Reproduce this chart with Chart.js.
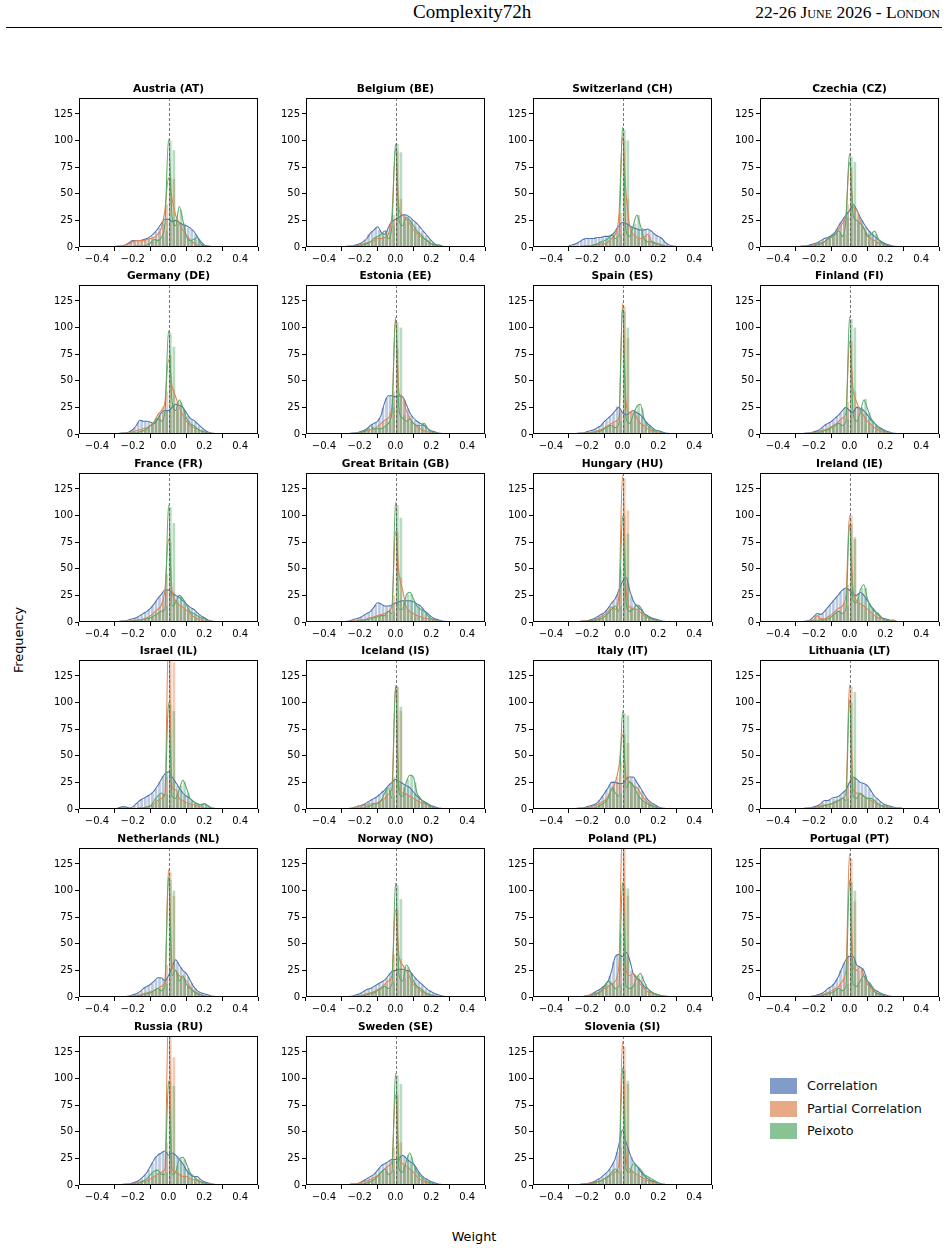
<!DOCTYPE html>
<html>
<head>
<meta charset="utf-8">
<script src="https://cdn.jsdelivr.net/npm/chart.js@4.4.1/dist/chart.umd.min.js"></script>
<style>
  html, body { margin: 0; padding: 0; background: #fff; }
  #page { position: relative; width: 948px; height: 1250px; background: #fff; overflow: hidden; font-family: "DejaVu Sans", sans-serif; }
  .hdr { position: absolute; font-family: "Liberation Serif", "Times New Roman", serif; color: #000; white-space: nowrap; }
  #rule { position: absolute; left: 6px; top: 27px; width: 936px; height: 1px; background: #000; }
  canvas.panel { position: absolute; }
  .lab { position: absolute; font-size: 12.8px; color: #000; white-space: nowrap; }
  .leg { position: absolute; left: 770px; width: 27px; height: 16px; }
  .legt { position: absolute; left: 807px; font-size: 12.8px; color: #111; white-space: nowrap; }
</style>
</head>
<body>
<div id="page">
  <div class="hdr" style="left:413px; top:1px; font-size:19px;">Complexity72h</div>
  <div class="hdr" style="right:8px; top:2px; font-size:17.5px; font-variant: small-caps;">22-26 June 2026 - London</div>
  <div id="rule"></div>
  <div class="lab" style="left:18px; top:640px; transform: translate(-50%,-50%) rotate(-90deg);">Frequency</div>
  <div class="lab" style="left:474px; top:1236px; transform: translate(-50%,-50%);">Weight</div>
  <div class="leg" style="top:1078px; background: rgba(76,114,176,0.7);"></div>
  <div class="legt" style="top:1078px;">Correlation</div>
  <div class="leg" style="top:1101px; background: rgba(221,132,82,0.7);"></div>
  <div class="legt" style="top:1101px;">Partial Correlation</div>
  <div class="leg" style="top:1123px; background: rgba(85,168,104,0.7);"></div>
  <div class="legt" style="top:1123px;">Peixoto</div>
</div>
<script>
const countries = ['Austria (AT)','Belgium (BE)','Switzerland (CH)','Czechia (CZ)','Germany (DE)','Estonia (EE)','Spain (ES)','Finland (FI)','France (FR)','Great Britain (GB)','Hungary (HU)','Ireland (IE)','Israel (IL)','Iceland (IS)','Italy (IT)','Lithuania (LT)','Netherlands (NL)','Norway (NO)','Poland (PL)','Portugal (PT)','Russia (RU)','Sweden (SE)','Slovenia (SI)'];
const seriesNames = ['Correlation','Partial Correlation','Peixoto'];
const xTicks = [-0.4,-0.2,0,0.2,0.4];
const yTicks = [0,25,50,75,100,125];
const lineX = [-0.30,-0.28,-0.26,-0.24,-0.22,-0.20,-0.18,-0.16,-0.14,-0.12,-0.10,-0.08,-0.06,-0.04,-0.02,0.00,0.02,0.04,0.06,0.08,0.10,0.12,0.14,0.16,0.18,0.20,0.22,0.24,0.26,0.28,0.30];
const binX = [-0.29,-0.27,-0.25,-0.23,-0.21,-0.19,-0.17,-0.15,-0.13,-0.11,-0.09,-0.07,-0.05,-0.03,-0.01,0.01,0.03,0.05,0.07,0.09,0.11,0.13,0.15,0.17,0.19,0.21,0.23,0.25,0.27,0.29];

// KDE curves (counts scale), one row per country, at lineX
const corrLine = [
[0.5,1,1,2,4,6,6,6,7,8,10,13,17,22,26,26,24,25,23,21,20,18,15,10,5,2,1,0.5,0.3,0.2,0],
[0,0.5,1,1,2,3,5,8,13,16,19,14,12,18,24,26,28,30,30,28,25,22,18,14,10,6,3,1,0.5,0,0],
[1,2,3,5,7,8,8,8,9,9,10,10,11,15,20,23,22,20,18,17,16,16,17,15,12,10,8,4,2,1,0.5],
[0,0.5,1,1,2,3,4,6,8,9,11,14,20,25,30,34,40,35,28,22,17,13,10,7,5,3,2,1,0.5,0,0],
[0,0.5,1,1,2,4,8,13,12,12,11,10,14,20,22,22,25,28,27,25,20,15,13,10,7,4,2,1,0.5,0,0],
[0,0,0.5,1,1,2,3,5,8,10,12,18,30,36,36,35,36,35,28,20,15,12,10,8,5,3,2,1,0.5,0,0],
[0,0,0.5,1,1,2,3,4,6,8,12,15,18,22,25,20,18,20,22,20,18,14,10,7,4,3,2,1,0.5,0,0],
[0,0,0.5,1,1,2,3,5,8,10,12,15,18,22,25,22,20,25,24,22,18,13,10,7,5,3,2,1,0.5,0,0],
[0,0.5,1,1,2,3,4,6,8,10,13,17,22,26,30,30,27,25,23,20,17,14,12,9,6,4,2,1,0.5,0,0],
[0,0.5,1,2,3,4,6,8,10,14,18,17,15,15,16,18,19,20,20,20,19,17,15,11,8,5,3,2,1,0.5,0],
[0,0,0,0.5,1,1,2,3,5,7,9,13,18,22,30,38,42,30,20,15,12,8,6,4,3,2,1,0.5,0,0,0],
[0,0,0.5,1,2,5,8,7,10,14,18,22,26,30,32,30,26,25,28,25,20,15,11,7,4,3,2,1,0.5,0,0],
[0,1,2,2,1,2,5,8,10,12,14,17,22,28,33,35,30,25,20,15,12,10,7,5,4,5,3,1,0.5,0,0],
[0,0,0.5,1,2,3,4,6,8,10,12,15,18,22,25,28,26,24,22,20,16,12,9,7,5,3,2,1,0.5,0,0],
[0,0,0.5,1,1,2,3,4,6,10,15,20,25,25,24,24,28,30,30,25,20,14,9,6,4,2,1,0.5,0,0,0],
[0,0,0.5,1,1,2,3,5,8,8,10,11,12,15,18,25,30,28,25,24,22,17,12,9,6,4,3,2,1,1,0.5],
[0,0,0,0.5,1,2,3,5,8,10,12,15,18,18,15,20,28,35,30,25,22,16,10,6,4,3,2,1,0.5,0,0],
[0,0,0.5,1,2,3,5,7,8,10,12,14,16,20,24,25,26,26,25,24,20,16,13,10,7,5,3,2,1,0.5,0],
[0,0,0,0,0.5,1,2,4,6,8,11,15,25,38,40,38,42,35,22,18,15,10,8,5,3,2,1,0.5,0,0,0],
[0,0,0,0,0.5,1,2,3,5,8,10,14,20,28,35,38,38,30,28,25,15,10,7,5,3,2,1,0.5,0,0,0],
[0,0,0.5,1,1,2,3,5,8,12,18,24,28,30,32,28,30,28,24,20,14,10,8,8,5,3,2,1,0.5,0,0],
[0,0,0.5,1,1,2,4,6,8,10,14,18,20,22,24,24,25,28,25,22,20,15,10,7,5,3,2,1,0.5,0,0],
[0,0,0,0.5,1,1,2,3,5,7,10,13,18,25,38,52,40,30,22,18,13,9,6,4,3,2,1,0.5,0,0,0]
];
const partLine = [
[0,0.5,1,2,3,5,6,6,6,7,8,9,12,18,35,65,45,30,22,16,11,7,4,2,1,1,1,0.5,0.5,0.3,0],
[0,0,0.5,1,1,2,3,4,5,6,8,8,9,12,30,92,35,30,26,22,16,13,10,8,5,3,2,1,0.5,0,0],
[0,0,0,0.5,1,1,1,2,2,3,3,5,8,12,30,103,50,20,12,9,8,9,12,6,3,2,1,0.5,0,0,0],
[0,0,0.5,1,1,2,3,4,5,7,9,12,17,22,30,80,38,35,25,17,12,8,6,4,3,2,1,0.5,0,0,0],
[0,0,0.5,1,1,2,3,4,5,6,8,12,18,22,30,70,45,35,25,18,12,8,6,5,3,2,1,0.5,0,0,0],
[0,0,0,0.5,1,1,2,3,4,5,7,10,13,15,25,110,38,35,22,15,10,7,5,3,2,1,1,0.5,0,0,0],
[0,0,0,0.5,1,1,1,2,3,4,6,8,10,12,15,123,30,20,22,15,10,8,5,3,2,1,0.5,0,0,0,0],
[0,0,0,0.5,1,1,2,3,4,5,7,9,12,15,20,87,42,30,22,17,12,9,6,4,2,1,1,0.5,0,0,0],
[0,0,0.5,1,1,1,2,2,3,4,6,9,12,16,30,78,30,20,16,14,11,8,5,3,2,1,1,0.5,0,0,0],
[0,0,0.5,1,1,2,2,3,4,5,6,7,8,10,15,85,45,30,14,10,8,6,5,4,3,2,1,0.5,0,0,0],
[0,0,0,0.5,1,1,1,2,3,5,7,10,14,12,25,138,30,14,12,12,9,6,4,3,2,1,0.5,0,0,0,0],
[0,0,0,0.5,1,2,6,3,3,5,7,10,13,15,25,100,30,20,17,15,12,9,6,4,3,2,1,2,1,0,0],
[0,0,1,0.5,0,0,0.5,1,1,2,3,5,8,10,15,160,20,18,10,8,6,5,4,3,2,1,1,0.5,0,0,0],
[0,0,0.5,1,2,3,3,4,5,5,6,8,10,14,20,115,20,15,14,12,10,8,6,5,4,2,1,0.5,0,0,0],
[0,0,0,0.5,1,1,2,3,4,6,8,12,18,25,40,70,30,26,22,20,15,10,7,4,2,1,0.5,0,0,0,0],
[0,0,0.5,0.5,1,1,2,3,4,4,5,6,8,10,15,117,18,15,14,12,10,8,6,4,3,3,2,1,1,1,0.5],
[0,0,0,0,0.5,1,1,2,3,4,5,6,8,10,15,120,30,25,20,18,15,10,6,4,2,1,0.5,0,0,0,0],
[0,0,0,0.5,1,1,2,3,4,5,7,9,12,15,20,82,38,30,25,18,12,9,6,4,2,1,0.5,0,0,0,0],
[0,0,0,0,0.5,1,2,3,4,6,8,10,12,15,30,170,25,20,22,18,12,8,5,4,3,2,1,1,0.5,0,0],
[0,0,0,0,0.5,1,1,2,3,4,6,8,10,15,25,135,28,25,28,20,12,8,5,3,2,1,0.5,0,0,0,0],
[0,0,0.5,0.5,1,1,2,3,3,4,6,8,10,12,15,165,15,12,10,8,8,6,5,4,3,2,1,1,0.5,0,0],
[0,0,0.5,1,1,2,3,4,5,7,9,12,15,18,22,85,25,20,18,15,12,8,5,3,2,1,0.5,0,0,0,0],
[0,0,0,0.5,1,1,2,2,3,4,6,8,10,12,20,135,25,15,12,10,8,6,4,3,2,1,0.5,0,0,0,0]
];
const peixLine = [
[0,0,0,0,0,0.5,1,1,1,2,4,7,6,9,22,101,28,20,38,25,10,6,7,9,3,1,0.5,0,0,0,0],
[0,0,0,0.5,1,1,2,3,5,8,10,12,15,8,20,97,25,20,28,25,20,15,12,8,6,3,2,2,1,0,0],
[0,0,0,0,0.5,1,1,2,3,5,6,8,12,8,10,113,15,10,20,30,20,8,5,5,4,3,2,1,0.5,0,0],
[0,0,0,0.5,1,1,2,3,5,8,10,12,15,10,25,88,30,25,22,18,10,12,15,8,4,2,1,0.5,0,0,0],
[0,0,0,0,0.5,1,1,2,3,5,8,10,15,12,20,97,30,22,32,25,15,10,8,5,3,2,1,0.5,0,0,0],
[0,0,0,0,1,1,2,4,8,5,5,5,7,10,20,108,22,15,12,14,10,8,8,10,5,2,1,0.5,0,0,0],
[0,0,0,0,0.5,1,1,1,2,3,5,7,8,6,10,118,15,10,18,26,28,15,8,5,3,3,1,0.5,0,0,0],
[0,0,0,0,0.5,1,1,2,3,4,6,8,10,8,12,110,20,12,20,32,24,15,10,6,4,2,1,0.5,0,0,0],
[0,0,0,0,0.5,1,1,1,2,3,4,6,8,10,12,110,15,18,25,22,16,10,8,6,4,3,1,0.5,0,0,0],
[0,0,0,0,0.5,1,1,2,3,4,5,6,6,10,8,113,12,12,25,28,22,15,12,10,6,3,2,1,0.5,0,0],
[0,0,0,0,0,0.5,1,1,2,3,5,8,12,15,10,100,18,10,12,16,14,8,5,3,2,1,0.5,0,0,0,0],
[0,0,0,0,0.5,1,1,2,2,3,5,8,10,8,12,92,20,18,30,35,22,14,10,8,4,2,1,1,0.5,0,0],
[0,0,0,0,0,0.5,0.5,1,1,2,3,8,12,15,12,100,12,10,18,27,20,10,7,5,4,5,3,1,0.5,0,0],
[0,0,0,0,0.5,1,1,2,3,5,5,8,15,20,10,116,15,12,25,32,30,15,10,6,4,2,1,0.5,0,0,0],
[0,0,0,0,0.5,1,1,1,2,4,6,10,20,15,12,92,20,25,22,15,10,7,5,3,2,1,0.5,0,0,0,0],
[0,0,0,0,0.5,1,1,2,3,4,5,7,8,10,8,103,12,10,15,12,10,10,8,5,3,2,1,0.5,0,0,0],
[0,0,0,0,0,0.5,1,1,2,3,4,6,8,6,10,113,20,25,15,20,12,8,5,3,2,1,0.5,0,0,0,0],
[0,0,0,0,0.5,1,1,2,3,4,6,8,10,8,12,107,20,15,30,25,15,10,8,5,3,2,1,0.5,0,0,0],
[0,0,0,0,0.5,1,1,2,3,5,10,15,12,8,10,108,10,8,10,18,22,15,8,5,3,2,1,0.5,0,0,0],
[0,0,0,0,0,0.5,1,1,2,3,4,6,8,6,10,110,12,10,15,20,15,12,5,3,2,1,0.5,0,0,0,0],
[0,0,0,0,0.5,1,1,2,4,6,10,13,14,10,10,98,10,12,24,26,20,12,8,5,3,2,1,0.5,0,0,0],
[0,0,0,0,0.5,1,1,2,3,5,8,12,15,10,12,105,15,12,22,30,20,12,8,5,3,2,1,0.5,0,0,0],
[0,0,0,0,0.5,1,1,2,3,4,6,8,12,15,12,110,15,12,20,18,15,10,8,6,4,2,1,0.5,0,0,0]
];

// Histogram counts, one row per country, at binX
const corrBars = [
[0,1,1,2,4,6,5,6,7,8,10,14,18,24,26,25,24,22,21,20,18,16,12,7,3,1,1,0,0,0],
[0,1,1,2,2,4,7,12,15,18,16,12,16,22,25,27,29,31,29,26,23,19,15,11,7,4,2,1,0,0],
[1,3,4,6,8,8,8,9,9,10,10,11,13,18,22,22,21,19,17,16,16,17,16,13,11,9,6,3,1,1],
[0,1,1,2,2,3,5,7,9,10,12,17,23,28,33,38,37,31,25,19,15,11,8,6,4,2,1,1,0,0],
[0,1,1,2,3,6,11,13,12,11,10,12,17,21,22,23,27,28,26,22,17,14,11,8,5,3,1,1,0,0],
[0,0,1,1,1,2,4,6,9,11,15,25,34,36,35,35,36,32,24,17,13,11,9,6,4,2,1,1,0,0],
[0,0,1,1,1,2,3,5,7,10,13,16,20,26,22,19,19,21,21,19,16,12,8,5,3,2,1,1,0,0],
[0,0,1,1,1,3,4,6,9,11,13,16,20,24,23,21,23,25,23,20,15,11,8,6,4,2,1,1,0,0],
[0,1,1,1,2,3,5,7,9,12,15,20,24,28,30,28,26,24,21,18,15,13,10,7,5,3,1,1,0,0],
[0,1,1,2,3,5,7,9,12,16,18,16,15,15,17,19,20,20,20,20,18,16,13,9,6,4,2,1,1,0],
[0,0,0,1,1,1,2,4,6,8,11,15,20,26,35,42,36,24,17,13,10,7,5,3,2,1,1,0,0,0],
[0,0,1,1,3,6,8,8,12,16,20,24,28,31,31,28,25,27,27,22,17,13,9,5,3,2,1,1,0,0],
[0,1,2,2,1,3,6,9,11,13,15,19,25,31,35,33,27,22,17,13,11,8,6,4,5,4,2,1,0,0],
[0,0,1,1,2,3,5,7,9,11,14,17,20,24,27,27,25,23,21,18,14,10,8,6,4,2,1,1,0,0],
[0,0,1,1,1,2,3,5,8,12,18,23,26,25,24,26,29,30,28,22,17,11,7,5,3,1,1,0,0,0],
[0,0,1,1,1,2,4,6,8,9,10,11,13,17,22,28,29,26,24,23,19,14,10,7,5,3,2,1,1,0],
[0,0,0,1,1,2,4,6,9,11,13,16,18,17,17,24,32,33,28,24,19,13,8,5,3,2,1,1,0,0],
[0,0,1,1,2,4,6,8,9,11,13,15,18,22,25,26,26,25,24,22,18,14,11,8,6,4,2,1,1,0],
[0,0,0,0,1,1,3,5,7,10,13,20,33,40,38,42,38,25,20,16,12,9,6,4,2,1,1,0,0,0],
[0,0,0,0,1,1,2,4,6,9,12,17,25,32,37,38,34,29,27,20,12,8,6,4,2,1,1,0,0,0],
[0,0,1,1,1,2,4,6,10,14,21,27,30,32,31,28,29,27,22,17,12,9,8,6,4,2,1,1,0,0],
[0,0,1,1,1,3,5,7,9,12,16,19,21,23,24,24,26,27,23,21,17,12,8,6,4,2,1,1,0,0],
[0,0,0,1,1,1,2,4,6,8,11,15,21,31,48,47,35,26,20,15,11,7,5,3,2,1,1,0,0,0]
];
const partBars = [
[0,1,1,2,4,5,6,6,6,7,8,10,14,22,40,65,64,26,20,14,9,6,3,2,1,1,1,0,0,0],
[0,0,1,1,1,2,3,4,6,7,8,9,10,18,30,90,45,28,24,19,14,11,9,6,4,2,1,1,0,0],
[0,0,0,1,1,1,1,2,3,3,4,6,10,18,32,100,45,18,11,8,8,10,10,5,2,1,1,0,0,0],
[0,0,1,1,2,2,3,5,6,8,10,14,19,26,40,75,36,28,20,14,10,7,5,3,2,1,1,0,0,0],
[0,0,1,1,1,2,3,4,6,7,10,15,20,26,40,74,42,30,22,15,10,7,5,4,2,1,1,0,0,0],
[0,0,0,1,1,1,2,3,5,6,8,12,14,20,40,80,37,30,18,12,8,6,4,2,1,1,1,0,0,0],
[0,0,0,1,1,1,1,2,3,5,7,9,11,13,20,120,90,20,20,13,9,6,4,2,1,1,0,0,0,0],
[0,0,0,1,1,1,2,3,4,6,8,10,13,16,30,87,40,26,20,15,10,7,5,3,1,1,1,0,0,0],
[0,0,1,1,1,1,2,3,3,5,7,10,14,22,45,75,28,18,15,12,9,6,4,2,1,1,1,0,0,0],
[0,0,1,1,1,2,3,3,4,5,6,7,9,12,25,85,42,20,12,9,7,5,4,3,2,1,1,0,0,0],
[0,0,0,1,1,1,1,2,4,6,8,12,14,18,50,135,105,15,12,10,7,5,3,2,1,1,0,0,0,0],
[0,0,0,1,1,4,5,3,4,6,8,11,14,18,35,100,80,18,16,13,10,7,5,3,2,2,1,1,0,0],
[0,0,1,1,0,0,1,1,2,2,4,6,9,12,30,145,138,15,9,7,5,4,3,2,1,1,1,0,0,0],
[0,0,1,1,2,3,4,4,5,6,7,9,12,17,30,115,92,15,13,11,9,7,5,4,3,1,1,0,0,0],
[0,0,0,1,1,1,2,3,5,7,10,15,22,30,45,70,62,25,21,17,12,8,5,3,1,1,0,0,0,0],
[0,0,1,1,1,1,2,3,4,5,5,7,9,12,25,115,30,15,13,11,9,7,5,3,3,2,1,1,1,0],
[0,0,0,0,1,1,1,2,3,4,5,7,9,12,30,118,95,24,19,17,12,8,5,3,1,1,0,0,0,0],
[0,0,0,1,1,1,2,3,5,6,8,10,13,18,40,82,36,28,22,15,10,7,5,3,1,1,0,0,0,0],
[0,0,0,0,1,1,2,3,5,7,9,11,13,20,60,150,95,20,21,15,10,6,4,3,2,1,1,0,0,0],
[0,0,0,0,1,1,1,2,3,5,7,9,12,18,40,130,90,25,27,18,10,7,4,2,1,1,0,0,0,0],
[0,0,1,1,1,1,2,3,3,5,7,9,11,14,40,145,120,12,10,8,7,5,4,3,2,1,1,1,0,0],
[0,0,1,1,1,2,3,4,6,8,10,13,17,20,35,85,40,19,17,13,10,6,4,2,1,1,0,0,0,0],
[0,0,0,1,1,1,2,2,3,5,7,9,11,15,35,130,95,14,11,9,7,5,3,2,1,1,0,0,0,0]
];
const peixBars = [
[0,0,0,0,0,1,1,1,1,3,5,7,7,10,15,100,91,25,35,22,8,6,8,8,2,1,0,0,0,0],
[0,0,0,1,1,1,2,3,5,9,11,13,12,9,20,97,89,22,27,24,19,14,11,8,5,3,2,2,1,0],
[0,0,0,0,1,1,1,2,4,5,7,10,11,8,12,110,100,12,22,30,18,7,5,5,3,2,1,1,0,0],
[0,0,0,1,1,1,3,4,6,9,11,13,12,12,28,85,80,23,20,14,11,13,12,6,3,1,1,0,0,0],
[0,0,0,0,1,1,1,2,4,6,9,12,14,14,22,95,82,24,30,22,13,9,7,4,2,1,1,0,0,0],
[0,0,0,0,1,1,3,6,7,5,5,6,8,12,25,105,100,18,13,12,9,8,9,8,3,1,1,0,0,0],
[0,0,0,0,1,1,1,1,2,4,6,7,7,7,12,115,100,12,22,27,24,12,7,4,3,2,1,0,0,0],
[0,0,0,0,1,1,1,2,3,5,7,9,9,9,14,108,100,14,25,33,20,12,8,5,3,1,1,0,0,0],
[0,0,0,0,1,1,1,1,2,3,5,7,9,11,15,108,93,20,24,20,13,9,7,5,3,2,1,0,0,0],
[0,0,0,0,1,1,1,2,3,4,5,6,7,9,10,110,98,18,26,26,18,14,11,8,4,2,1,1,0,0],
[0,0,0,0,0,1,1,1,3,4,6,10,14,13,15,100,83,12,13,16,12,6,4,2,1,1,0,0,0,0],
[0,0,0,0,1,1,1,2,2,4,6,9,9,9,15,92,78,22,32,32,18,12,9,6,3,1,1,1,0,0],
[0,0,0,0,0,1,1,1,1,2,4,9,13,14,14,98,92,14,22,25,15,8,6,5,4,4,2,1,0,0],
[0,0,0,0,1,1,1,2,4,5,6,10,18,18,12,115,96,20,28,32,25,12,8,5,3,1,1,0,0,0],
[0,0,0,0,1,1,1,1,3,5,8,15,20,14,15,90,88,24,20,12,8,6,4,2,1,1,0,0,0,0],
[0,0,0,0,1,1,1,2,3,4,6,7,9,9,10,100,110,12,14,11,10,9,6,4,2,1,1,0,0,0],
[0,0,0,0,0,1,1,1,2,3,5,7,7,8,12,110,100,22,17,17,10,6,4,2,1,1,0,0,0,0],
[0,0,0,0,1,1,1,2,3,5,7,9,9,9,14,105,92,18,28,22,13,9,7,4,2,1,1,0,0,0],
[0,0,0,0,1,1,1,2,4,7,12,15,10,8,12,105,102,9,13,20,20,12,6,4,2,1,1,0,0,0],
[0,0,0,0,0,1,1,1,2,3,5,7,7,7,12,108,100,11,17,19,14,10,4,2,1,1,0,0,0,0],
[0,0,0,0,1,1,1,3,5,8,12,14,12,10,12,97,93,18,25,24,16,10,6,4,2,1,1,0,0,0],
[0,0,0,0,1,1,1,2,4,6,10,13,13,10,14,103,95,18,28,26,16,10,6,4,2,1,1,0,0,0],
[0,0,0,0,1,1,1,2,3,5,7,10,14,14,13,108,98,14,19,16,13,9,7,5,3,1,1,0,0,0]
];

const COLORS = ['#4C72B0', '#DD8452', '#55A868'];
const BAR_COLORS = ['rgba(76,114,176,0.38)', 'rgba(221,132,82,0.42)', 'rgba(85,168,104,0.42)'];

const page = document.getElementById('page');

const framePlugin = {
  id: 'frame',
  afterDatasetsDraw(chart) {
    const ctx = chart.ctx, a = chart.chartArea;
    const x0 = chart.scales.x.getPixelForValue(0);
    ctx.save();
    ctx.strokeStyle = '#555';
    ctx.lineWidth = 0.8;
    ctx.setLineDash([3, 2]);
    ctx.beginPath();
    ctx.moveTo(Math.round(x0) + 0.5, a.top);
    ctx.lineTo(Math.round(x0) + 0.5, a.bottom);
    ctx.stroke();
    ctx.restore();
  },
  afterDraw(chart) {
    const ctx = chart.ctx, a = chart.chartArea;
    ctx.save();
    ctx.strokeStyle = '#000';
    ctx.lineWidth = 1;
    ctx.strokeRect(Math.round(a.left) + 0.5, Math.round(a.top) + 0.5, Math.round(a.right - a.left) - 1, Math.round(a.bottom - a.top) - 1);
    ctx.fillStyle = '#000';
    ctx.font = 'bold 10.6px "DejaVu Sans"';
    ctx.textAlign = 'center';
    ctx.textBaseline = 'alphabetic';
    ctx.fillText(chart.options.plugins.panelTitle, (a.left + a.right) / 2, a.top - 6);
    ctx.restore();
  }
};

function fmtX(v) {
  if (Math.abs(v) < 1e-9) return '0.0';
  return (v < 0 ? '\u2212' : '') + Math.abs(v).toFixed(1);
}

const AXL = 50, AXB = 22, PT = 22, PR = 6;
const CW = AXL + 179 + PR, CH = PT + 149 + AXB;

countries.forEach((name, k) => {
  const col = k % 4, row = Math.floor(k / 4);
  const plotLeft = Math.round(78.5 + 227 * col);
  const plotTop = Math.round(97.5 + 187.6 * row);
  const cv = document.createElement('canvas');
  cv.className = 'panel';
  cv.width = CW; cv.height = CH;
  cv.style.left = (plotLeft - AXL) + 'px';
  cv.style.top = (plotTop - PT) + 'px';
  cv.style.width = CW + 'px'; cv.style.height = CH + 'px';
  page.appendChild(cv);

  const lines = [corrLine[k], partLine[k], peixLine[k]];
  const bars = [corrBars[k], partBars[k], peixBars[k]];
  const datasets = [];
  lines.forEach((arr, s) => {
    datasets.push({
      type: 'line', label: seriesNames[s] + ' KDE',
      data: arr.map((y, i) => ({ x: lineX[i], y })),
      borderColor: COLORS[s], borderWidth: 1.05, pointRadius: 0,
      cubicInterpolationMode: 'monotone', fill: false, order: 2 - s, clip: 0
    });
  });
  bars.forEach((arr, s) => {
    datasets.push({
      type: 'bar', label: seriesNames[s],
      data: arr.map((y, i) => ({ x: binX[i], y })),
      backgroundColor: BAR_COLORS[s], borderWidth: 0,
      grouped: false, barPercentage: 0.75, categoryPercentage: 1,
      order: 5 - s, clip: 0
    });
  });

  new Chart(cv, {
    data: { datasets },
    options: {
      responsive: false, animation: false, devicePixelRatio: 1,
      layout: { padding: { top: PT, right: PR, left: 0, bottom: 0 } },
      plugins: { legend: { display: false }, tooltip: { enabled: false }, panelTitle: name },
      scales: {
        x: {
          type: 'linear', min: -0.5, max: 0.5, offset: false,
          afterBuildTicks: s => { s.ticks = xTicks.map(v => ({ value: v })); },
          afterFit: s => { s.height = AXB; },
          grid: { drawOnChartArea: false, drawTicks: true, tickLength: 4, tickColor: '#000', tickWidth: 1 },
          border: { display: false },
          ticks: { color: '#000', font: { family: 'DejaVu Sans', size: 10 }, padding: 2, maxRotation: 0, autoSkip: false, callback: v => fmtX(v) }
        },
        y: {
          type: 'linear', min: 0, max: 140,
          afterBuildTicks: s => { s.ticks = yTicks.map(v => ({ value: v })); },
          afterFit: s => { s.width = AXL; },
          grid: { drawOnChartArea: false, drawTicks: true, tickLength: 4, tickColor: '#000', tickWidth: 1 },
          border: { display: false },
          ticks: { color: '#000', font: { family: 'DejaVu Sans', size: 10 }, padding: 2, autoSkip: false, callback: v => String(v) }
        }
      }
    },
    plugins: [framePlugin]
  });
});
</script>
</body>
</html>
